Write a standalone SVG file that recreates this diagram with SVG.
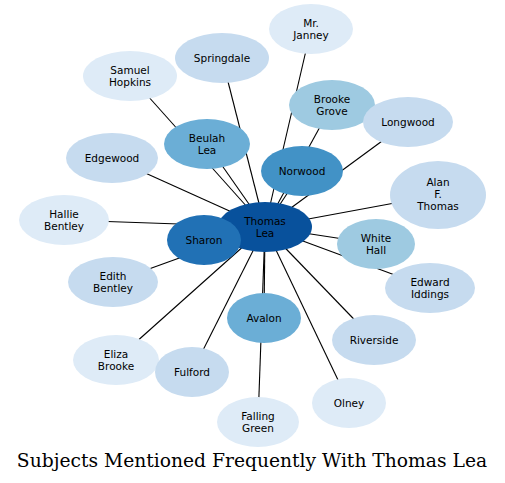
<svg xmlns="http://www.w3.org/2000/svg" width="505" height="483" viewBox="0 0 505 483">
<style>
.e line{stroke:#000;stroke-width:1.1}
text{font-family:"DejaVu Sans",sans-serif;font-size:10.5px;text-anchor:middle;fill:#000}
.t{font-family:"DejaVu Serif",serif;font-size:18.7px}
.c1{fill:#08519c}.c2{fill:#2171b5}.c3{fill:#4292c6}.c4{fill:#6baed6}.c5{fill:#9ecae1}.c6{fill:#c6dbef}.c7{fill:#deebf7}
</style>
<rect width="505" height="483" fill="#fff"/>
<g id="connectors" class="e">
<line x1="265" y1="227" x2="130" y2="76"/>
<line x1="265" y1="227" x2="222" y2="58"/>
<line x1="265" y1="227" x2="311" y2="29"/>
<line x1="265" y1="227" x2="207" y2="144"/>
<line x1="265" y1="227" x2="332" y2="105"/>
<line x1="265" y1="227" x2="302" y2="171"/>
<line x1="265" y1="227" x2="408" y2="122"/>
<line x1="265" y1="227" x2="438" y2="195"/>
<line x1="265" y1="227" x2="376" y2="244"/>
<line x1="265" y1="227" x2="430" y2="288"/>
<line x1="265" y1="227" x2="374" y2="340"/>
<line x1="265" y1="227" x2="349" y2="403"/>
<line x1="265" y1="227" x2="264" y2="318"/>
<line x1="265" y1="227" x2="258" y2="422"/>
<line x1="265" y1="227" x2="192" y2="372"/>
<line x1="265" y1="227" x2="116" y2="360"/>
<line x1="265" y1="227" x2="113" y2="282"/>
<line x1="265" y1="227" x2="64" y2="220"/>
<line x1="265" y1="227" x2="112" y2="158"/>
<line x1="265" y1="227" x2="204" y2="240"/>
</g>
<g id="n-samuel-hopkins"><ellipse class="c7" cx="130" cy="76" rx="47" ry="25"/><text x="130" y="73.8">Samuel</text><text x="130" y="85.8">Hopkins</text></g>
<g id="n-springdale"><ellipse class="c6" cx="222" cy="58" rx="47" ry="25"/><text x="222" y="61.8">Springdale</text></g>
<g id="n-mr-janney"><ellipse class="c7" cx="311" cy="29" rx="42" ry="25"/><text x="311" y="26.8">Mr.</text><text x="311" y="38.8">Janney</text></g>
<g id="n-brooke-grove"><ellipse class="c5" cx="332" cy="105" rx="43" ry="25"/><text x="332" y="102.8">Brooke</text><text x="332" y="114.8">Grove</text></g>
<g id="n-longwood"><ellipse class="c6" cx="408" cy="122" rx="45" ry="25"/><text x="408" y="125.8">Longwood</text></g>
<g id="n-beulah-lea"><ellipse class="c4" cx="207" cy="144" rx="43" ry="25"/><text x="207" y="141.8">Beulah</text><text x="207" y="153.8">Lea</text></g>
<g id="n-norwood"><ellipse class="c3" cx="302" cy="171" rx="41" ry="25"/><text x="302" y="174.8">Norwood</text></g>
<g id="n-edgewood"><ellipse class="c6" cx="112" cy="158" rx="46" ry="25"/><text x="112" y="161.8">Edgewood</text></g>
<g id="n-alan-f-thomas"><ellipse class="c6" cx="438" cy="195" rx="48" ry="34"/><text x="438" y="185.8">Alan</text><text x="438" y="197.8">F.</text><text x="438" y="209.8">Thomas</text></g>
<g id="n-hallie-bentley"><ellipse class="c7" cx="64" cy="220" rx="45" ry="25"/><text x="64" y="217.8">Hallie</text><text x="64" y="229.8">Bentley</text></g>
<g id="n-thomas-lea"><ellipse class="c1" cx="265" cy="227" rx="47" ry="25"/><text x="265" y="224.8">Thomas</text><text x="265" y="236.8">Lea</text></g>
<g id="n-sharon"><ellipse class="c2" cx="204" cy="240" rx="37" ry="25"/><text x="204" y="243.8">Sharon</text></g>
<g id="n-white-hall"><ellipse class="c5" cx="376" cy="244" rx="39" ry="25"/><text x="376" y="241.8">White</text><text x="376" y="253.8">Hall</text></g>
<g id="n-edith-bentley"><ellipse class="c6" cx="113" cy="282" rx="45" ry="25"/><text x="113" y="279.8">Edith</text><text x="113" y="291.8">Bentley</text></g>
<g id="n-edward-iddings"><ellipse class="c6" cx="430" cy="288" rx="45" ry="25"/><text x="430" y="285.8">Edward</text><text x="430" y="297.8">Iddings</text></g>
<g id="n-avalon"><ellipse class="c4" cx="264" cy="318" rx="37" ry="25"/><text x="264" y="321.8">Avalon</text></g>
<g id="n-riverside"><ellipse class="c6" cx="374" cy="340" rx="42" ry="25"/><text x="374" y="343.8">Riverside</text></g>
<g id="n-eliza-brooke"><ellipse class="c7" cx="116" cy="360" rx="43" ry="25"/><text x="116" y="357.8">Eliza</text><text x="116" y="369.8">Brooke</text></g>
<g id="n-fulford"><ellipse class="c6" cx="192" cy="372" rx="37" ry="25"/><text x="192" y="375.8">Fulford</text></g>
<g id="n-olney"><ellipse class="c7" cx="349" cy="403" rx="37" ry="25"/><text x="349" y="406.8">Olney</text></g>
<g id="n-falling-green"><ellipse class="c7" cx="258" cy="422" rx="41" ry="25"/><text x="258" y="419.8">Falling</text><text x="258" y="431.8">Green</text></g>
<text class="t" x="252" y="467">Subjects Mentioned Frequently With Thomas Lea</text>
</svg>
